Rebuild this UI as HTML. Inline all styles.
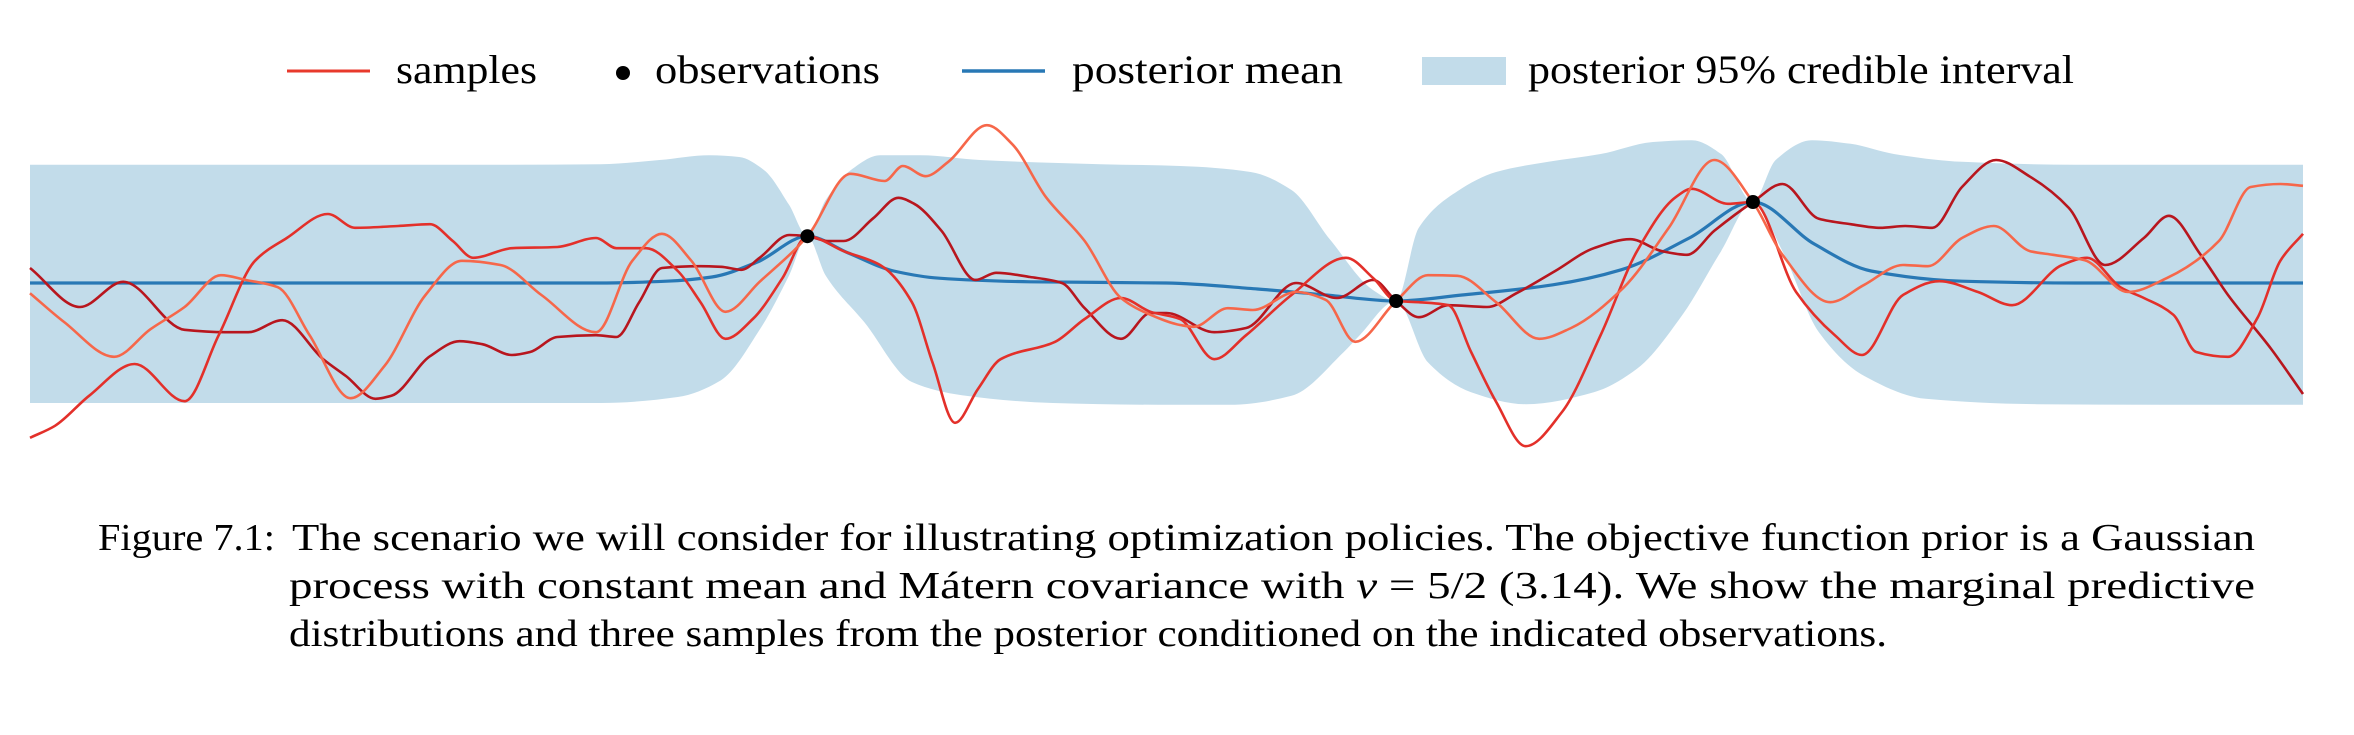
<!DOCTYPE html>
<html><head><meta charset="utf-8"><style>
html,body{margin:0;padding:0;background:#fff;}
svg{display:block;}
text{font-family:"Liberation Serif",serif;fill:#000;}
</style></head><body>
<svg id="chart" width="2354" height="735" viewBox="0 0 2354 735" xmlns="http://www.w3.org/2000/svg">
<g>
  <line x1="287" y1="71" x2="370" y2="71" stroke="#e8392c" stroke-width="3"/>
  <text x="396" y="83" font-size="40" textLength="141" lengthAdjust="spacingAndGlyphs">samples</text>
  <circle cx="623" cy="73" r="7" fill="#000"/>
  <text x="655" y="83" font-size="40" textLength="225" lengthAdjust="spacingAndGlyphs">observations</text>
  <line x1="962" y1="71" x2="1045" y2="71" stroke="#2878b5" stroke-width="3.5"/>
  <text x="1072" y="83" font-size="40" textLength="271" lengthAdjust="spacingAndGlyphs">posterior mean</text>
  <rect x="1422" y="57" width="84" height="28" fill="#c2dcea"/>
  <text x="1528" y="83" font-size="40" textLength="546" lengthAdjust="spacingAndGlyphs">posterior 95% credible interval</text>
</g>
<g id="plot"></g>
<g>
  <text x="98" y="550" font-size="38" textLength="177" lengthAdjust="spacingAndGlyphs">Figure 7.1:</text>
  <text x="292" y="550" font-size="38" textLength="1963" lengthAdjust="spacingAndGlyphs">The scenario we will consider for illustrating optimization policies. The objective function prior is a Gaussian</text>
  <text x="289" y="598" font-size="38" textLength="1966" lengthAdjust="spacingAndGlyphs">process with constant mean and Mátern covariance with <tspan font-style="italic">ν</tspan> = 5/2 (3.14). We show the marginal predictive</text>
  <text x="289" y="646" font-size="38" textLength="1598" lengthAdjust="spacingAndGlyphs">distributions and three samples from the posterior conditioned on the indicated observations.</text>
</g>
</svg>
<script>
const obsX=[3.42,6.01,7.58];
const obsY=[0.78,-0.3,1.35];
const meanX=[0,1,2,2.5,2.8,3.0,3.2,3.42,3.6,3.8,4.0,4.4,5.0,5.4,5.7,6.01,6.3,6.7,7.0,7.3,7.58,7.85,8.1,8.5,9,9.5,10];
const meanY=[0,0,0,0,0.03,0.1,0.35,0.78,0.5,0.2,0.08,0.02,0,-0.1,-0.2,-0.3,-0.2,-0.03,0.22,0.75,1.35,0.65,0.2,0.03,0,0,0];
const upperX=[0,1,2,2.51,2.77,2.99,3.12,3.23,3.34,3.42,3.5,3.61,3.74,3.92,4.18,4.71,5.06,5.37,5.55,5.72,5.91,6.01,6.11,6.28,6.45,6.68,6.91,7.14,7.31,7.44,7.58,7.68,7.84,8.01,8.2,8.5,9.0,9.5,10];
const upperY=[1.97,1.97,1.97,1.98,2.05,2.13,2.1,1.88,1.3,0.78,1.38,1.88,2.13,2.13,2.05,1.98,1.95,1.85,1.55,0.72,-0.12,-0.3,0.92,1.53,1.85,2.02,2.15,2.35,2.38,2.15,1.35,2.05,2.38,2.32,2.15,2.02,1.97,1.97,1.97];
const lowerX=[0,1,2,2.51,2.85,3.04,3.21,3.34,3.42,3.5,3.67,3.88,4.1,4.5,5.02,5.28,5.55,5.78,5.85,6.01,6.15,6.34,6.58,6.88,7.07,7.27,7.44,7.58,7.71,7.87,8.07,8.34,8.83,9.5,10];
const lowerY=[-2,-2,-2,-2,-1.9,-1.62,-0.78,0.13,0.78,0.13,-0.65,-1.65,-1.87,-2.0,-2.03,-2.03,-1.88,-1.15,-0.87,-0.3,-1.32,-1.82,-2.02,-1.82,-1.43,-0.53,0.53,1.35,0.53,-0.82,-1.55,-1.93,-2.02,-2.03,-2.03];
const sampleAX=[0,0.22,0.41,0.68,0.86,0.96,1.11,1.29,1.39,1.52,1.59,1.76,1.89,1.99,2.12,2.2,2.32,2.49,2.58,2.68,2.78,2.95,3.04,3.13,3.21,3.34,3.42,3.51,3.58,3.71,3.82,3.89,4.01,4.16,4.25,4.4,4.54,4.64,4.8,4.93,5.0,5.21,5.35,5.57,5.75,5.91,6.01,6.11,6.24,6.41,6.54,6.71,6.88,7.04,7.18,7.29,7.41,7.58,7.71,7.87,8.01,8.14,8.25,8.37,8.5,8.65,8.8,8.97,9.13,9.3,9.41,9.55,9.67,9.86,10];
const sampleAY=[0.25,-0.4,0.02,-0.78,-0.82,-0.82,-0.62,-1.27,-1.55,-1.93,-1.88,-1.22,-0.97,-1.02,-1.2,-1.15,-0.9,-0.87,-0.9,-0.32,0.25,0.28,0.27,0.22,0.42,0.8,0.78,0.7,0.7,1.08,1.42,1.32,0.87,0.05,0.17,0.1,0,-0.42,-0.93,-0.5,-0.5,-0.82,-0.75,0,-0.25,0.05,-0.3,-0.57,-0.37,-0.4,-0.17,0.2,0.58,0.73,0.53,0.47,0.87,1.35,1.65,1.07,0.98,0.92,0.95,0.92,1.6,2.05,1.77,1.25,0.3,0.75,1.12,0.47,-0.2,-1.1,-1.85];
const sampleBX=[0,0.11,0.26,0.46,0.68,0.83,0.99,1.13,1.31,1.43,1.62,1.76,1.86,1.95,2.12,2.32,2.49,2.58,2.71,2.85,2.95,3.06,3.18,3.31,3.42,3.58,3.74,3.88,3.97,4.07,4.17,4.27,4.51,4.64,4.8,4.93,5.06,5.21,5.35,5.55,5.79,5.91,6.01,6.11,6.24,6.34,6.45,6.58,6.74,6.91,7.07,7.24,7.31,7.47,7.58,7.77,7.94,8.06,8.24,8.4,8.57,8.72,8.94,9.05,9.2,9.3,9.43,9.53,9.67,9.8,9.9,10];
const sampleBY=[-2.58,-2.38,-1.88,-1.35,-1.97,-0.87,0.37,0.75,1.15,0.92,0.95,0.98,0.7,0.42,0.58,0.6,0.75,0.58,0.58,0.2,-0.32,-0.93,-0.6,0.08,0.78,0.53,0.3,-0.32,-1.32,-2.33,-1.77,-1.27,-0.98,-0.6,-0.25,-0.48,-0.6,-1.27,-0.87,-0.2,0.42,0.08,-0.3,-0.32,-0.37,-1.15,-1.98,-2.72,-2.15,-0.87,0.53,1.43,1.57,1.32,1.35,-0.15,-0.87,-1.2,-0.2,0.03,-0.15,-0.37,0.3,0.42,-0.08,-0.25,-0.53,-1.15,-1.23,-0.58,0.37,0.82];
const sampleCX=[0,0.15,0.37,0.53,0.68,0.84,0.95,1.09,1.23,1.41,1.56,1.74,1.9,2.07,2.25,2.49,2.65,2.78,2.91,3.06,3.21,3.42,3.61,3.76,3.84,3.94,4.04,4.21,4.32,4.47,4.64,4.8,4.93,5.06,5.12,5.27,5.38,5.57,5.7,5.83,6.01,6.15,6.28,6.45,6.64,6.78,7.01,7.21,7.41,7.58,7.71,7.92,8.07,8.24,8.35,8.5,8.64,8.8,8.9,9.04,9.23,9.4,9.63,9.77,9.9,10];
const sampleCY=[-0.17,-0.65,-1.23,-0.77,-0.4,0.13,0.05,-0.07,-0.87,-1.92,-1.38,-0.2,0.37,0.3,-0.2,-0.82,0.37,0.82,0.37,-0.48,0.02,0.78,1.82,1.7,1.95,1.78,2.02,2.63,2.32,1.43,0.7,-0.25,-0.53,-0.7,-0.73,-0.42,-0.45,-0.15,-0.28,-0.98,-0.3,0.13,0.12,-0.32,-0.93,-0.75,-0.08,0.92,2.05,1.35,0.47,-0.32,-0.03,0.3,0.28,0.75,0.95,0.53,0.47,0.38,-0.15,0.08,0.7,1.6,1.65,1.62];

const NS='http://www.w3.org/2000/svg';
const X0=30,X1=2303,Y0=283,YS=60;
function sx(t){return X0+t*(X1-X0)/10;}
function sy(v){return Y0-v*YS;}
function pts(xs,ys){return xs.map((x,i)=>[sx(x),sy(ys[i])]);}
// monotone cubic (Fritsch-Carlson) through points with increasing x
function mono(p,move){
  const n=p.length,d=[],m=[];
  for(let i=0;i<n-1;i++)d.push((p[i+1][1]-p[i][1])/(p[i+1][0]-p[i][0]));
  m[0]=d[0];m[n-1]=d[n-2];
  for(let i=1;i<n-1;i++){
    if(d[i-1]*d[i]<=0)m[i]=0;
    else{const h0=p[i][0]-p[i-1][0],h1=p[i+1][0]-p[i][0];
      const w1=2*h1+h0,w2=h1+2*h0;m[i]=(w1+w2)/(w1/d[i-1]+w2/d[i]);}
  }
  let s=(move?'M':'L')+p[0][0].toFixed(1)+','+p[0][1].toFixed(1);
  for(let i=0;i<n-1;i++){
    const h=(p[i+1][0]-p[i][0])/3;
    s+='C'+(p[i][0]+h).toFixed(1)+','+(p[i][1]+m[i]*h).toFixed(1)+' '+(p[i+1][0]-h).toFixed(1)+','+(p[i+1][1]-m[i+1]*h).toFixed(1)+' '+p[i+1][0].toFixed(1)+','+p[i+1][1].toFixed(1);
  }
  return s;
}
function monoRev(p){
  // build path along reversed direction by mirroring x
  const q=p.slice().reverse().map(a=>[-a[0],a[1]]);
  return mono(q,false).replace(/(-?\d+\.?\d*),(-?\d+\.?\d*)/g,(m0,a,b)=>(-parseFloat(a)).toFixed(1)+','+b);
}
const g=document.getElementById('plot');
const band=document.createElementNS(NS,'path');


band.setAttribute('d',mono(pts(upperX,upperY),true)+monoRev(pts(lowerX,lowerY))+'Z');
band.setAttribute('fill','#c2dcea');
g.appendChild(band);
const mean=document.createElementNS(NS,'path');


mean.setAttribute('d',mono(pts(meanX,meanY),true));
mean.setAttribute('fill','none');mean.setAttribute('stroke','#2878b5');mean.setAttribute('stroke-width','3.2');
g.appendChild(mean);
const samples=[[sampleAX,sampleAY,'#b8161e','sample-1-line'],[sampleBX,sampleBY,'#e3302a','sample-2-line'],[sampleCX,sampleCY,'#f6674a','sample-3-line']];
samples.forEach(s=>{
  const p=document.createElementNS(NS,'path');
  
  
  p.setAttribute('d',mono(pts(s[0],s[1]),true));
  p.setAttribute('fill','none');p.setAttribute('stroke',s[2]);p.setAttribute('stroke-width','2.6');p.setAttribute('stroke-linejoin','round');
  g.appendChild(p);
});
obsX.forEach((x,i)=>{
  const c=document.createElementNS(NS,'circle');
  
  
  c.setAttribute('cx',sx(x));c.setAttribute('cy',sy(obsY[i]));c.setAttribute('r','7');c.setAttribute('fill','#000');
  g.appendChild(c);
});
</script>
</body></html>
